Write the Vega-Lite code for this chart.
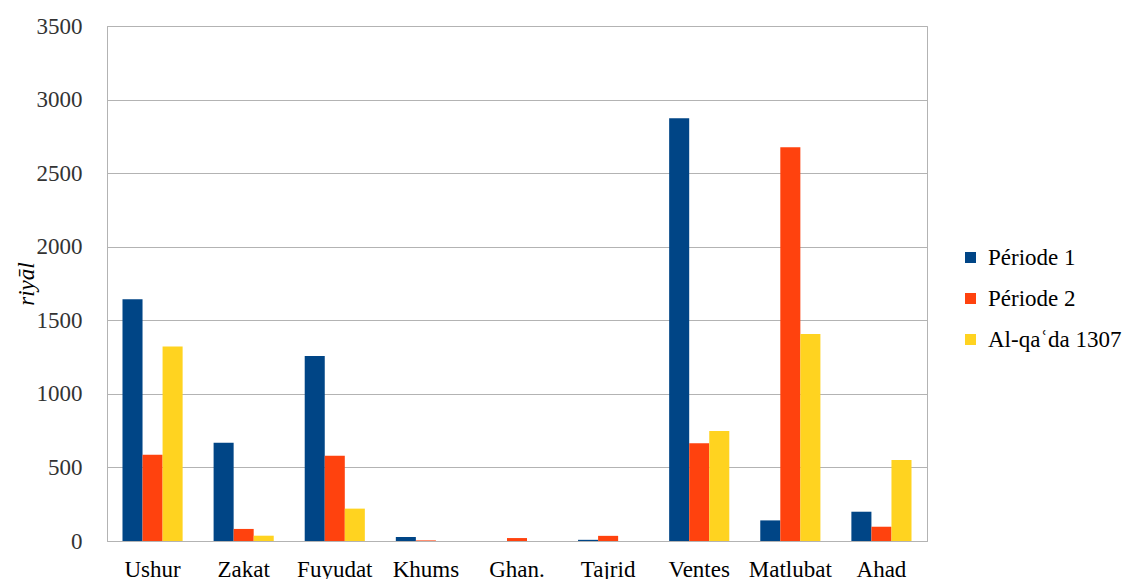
{
  "$schema": "https://vega.github.io/schema/vega-lite/v6.json",
  "autosize": "none",
  "padding": {"left": 107, "top": 26, "right": 199, "bottom": 38},
  "width": 820,
  "height": 515,
  "background": "white",
  "config": {
    "font": "Times New Roman, Liberation Serif, DejaVu Serif, serif",
    "axis": {"labelFont": "Times New Roman, Liberation Serif, DejaVu Serif, serif", "titleFont": "Times New Roman, Liberation Serif, DejaVu Serif, serif"},
    "legend": {"labelFont": "Times New Roman, Liberation Serif, DejaVu Serif, serif"},
    "view": {"stroke": "#b3b3b3", "strokeWidth": 1}
  },
  "data": {
    "values": [
      {"cat": "Ushur", "serie": "Période 1", "v": 1643},
      {"cat": "Ushur", "serie": "Période 2", "v": 587},
      {"cat": "Ushur", "serie": "Al-qaʿda 1307", "v": 1321},
      {"cat": "Zakat", "serie": "Période 1", "v": 668},
      {"cat": "Zakat", "serie": "Période 2", "v": 82},
      {"cat": "Zakat", "serie": "Al-qaʿda 1307", "v": 36},
      {"cat": "Fuyudat", "serie": "Période 1", "v": 1258},
      {"cat": "Fuyudat", "serie": "Période 2", "v": 580},
      {"cat": "Fuyudat", "serie": "Al-qaʿda 1307", "v": 220},
      {"cat": "Khums", "serie": "Période 1", "v": 27},
      {"cat": "Khums", "serie": "Période 2", "v": 4},
      {"cat": "Khums", "serie": "Al-qaʿda 1307", "v": 0},
      {"cat": "Ghan.", "serie": "Période 1", "v": 0},
      {"cat": "Ghan.", "serie": "Période 2", "v": 20},
      {"cat": "Ghan.", "serie": "Al-qaʿda 1307", "v": 0},
      {"cat": "Tajrid", "serie": "Période 1", "v": 8},
      {"cat": "Tajrid", "serie": "Période 2", "v": 35},
      {"cat": "Tajrid", "serie": "Al-qaʿda 1307", "v": 0},
      {"cat": "Ventes", "serie": "Période 1", "v": 2873},
      {"cat": "Ventes", "serie": "Période 2", "v": 664},
      {"cat": "Ventes", "serie": "Al-qaʿda 1307", "v": 748},
      {"cat": "Matlubat", "serie": "Période 1", "v": 140},
      {"cat": "Matlubat", "serie": "Période 2", "v": 2676},
      {"cat": "Matlubat", "serie": "Al-qaʿda 1307", "v": 1407},
      {"cat": "Ahad", "serie": "Période 1", "v": 199},
      {"cat": "Ahad", "serie": "Période 2", "v": 97},
      {"cat": "Ahad", "serie": "Al-qaʿda 1307", "v": 551}
    ]
  },
  "mark": {"type": "bar"},
  "encoding": {
    "x": {
      "field": "cat",
      "type": "nominal",
      "sort": null,
      "scale": {"paddingInner": 0.34, "paddingOuter": 0.17},
      "axis": {
        "title": null,
        "labelAngle": 0,
        "labelFontSize": 23,
        "labelColor": "#000000",
        "labelPadding": 17,
        "ticks": false,
        "domainColor": "#b3b3b3",
        "grid": false
      }
    },
    "xOffset": {
      "field": "serie",
      "type": "nominal",
      "sort": ["Période 1", "Période 2", "Al-qaʿda 1307"],
      "scale": {"paddingInner": 0, "paddingOuter": 0}
    },
    "y": {
      "field": "v",
      "type": "quantitative",
      "scale": {"domain": [0, 3500], "nice": false},
      "axis": {
        "title": "riyāl",
        "titleFontStyle": "italic",
        "titleFontWeight": "normal",
        "titleFontSize": 23,
        "titleColor": "#000000",
        "titlePadding": -2,
        "values": [0, 500, 1000, 1500, 2000, 2500, 3000, 3500],
        "format": "d",
        "labelFontSize": 23,
        "labelColor": "#333333",
        "labelPadding": 25,
        "ticks": false,
        "domainColor": "#b3b3b3",
        "gridColor": "#b3b3b3",
        "gridWidth": 1
      }
    },
    "color": {
      "field": "serie",
      "type": "nominal",
      "sort": ["Période 1", "Période 2", "Al-qaʿda 1307"],
      "scale": {
        "domain": ["Période 1", "Période 2", "Al-qaʿda 1307"],
        "range": ["#004586", "#ff420e", "#ffd320"]
      },
      "legend": {
        "title": null,
        "orient": "none",
        "legendX": 852,
        "legendY": 220,
        "symbolType": "square",
        "symbolSize": 121,
        "symbolStrokeWidth": 0,
        "labelFontSize": 23,
        "labelColor": "#000000",
        "labelOffset": 6,
        "rowPadding": 17
      }
    }
  }
}
